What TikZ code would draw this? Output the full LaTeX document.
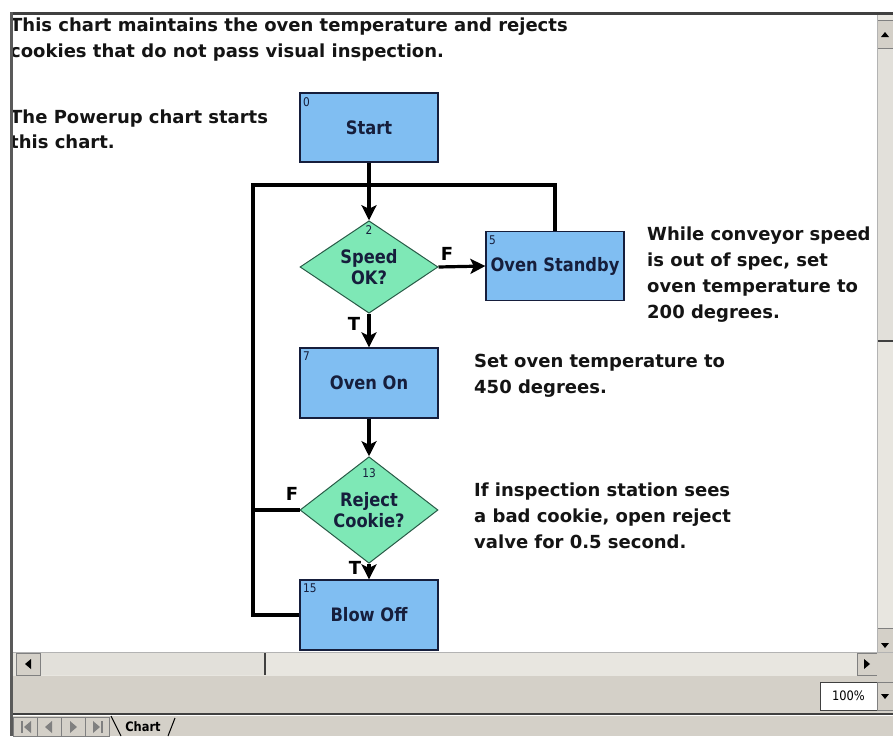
\documentclass[tikz,border=0pt]{standalone}
\usepackage{fontspec}
\usetikzlibrary{arrows.meta,shapes.geometric}
\newfontfamily\dvs{DejaVu Sans}
\newfontfamily\dvsn[FakeStretch=0.88]{DejaVu Sans}
\definecolor{boxblue}{RGB}{128,190,242}
\definecolor{dgreen}{RGB}{126,232,182}
\definecolor{dborder}{RGB}{40,90,70}
\definecolor{navy}{RGB}{22,30,60}
\definecolor{notetext}{RGB}{20,20,20}
\definecolor{uigray}{RGB}{212,208,200}
\definecolor{track}{RGB}{232,230,224}
\definecolor{thumb}{RGB}{226,224,218}
\definecolor{dkgray}{RGB}{64,64,64}
\definecolor{frame}{RGB}{90,90,90}
\definecolor{midgray}{RGB}{128,128,128}
\tikzset{
  stepbox/.style={draw=navy,line width=1.3pt,fill=boxblue,minimum width=138pt,minimum height=69pt,inner sep=0pt,font=\dvsn\bfseries\fontsize{18.5}{21}\selectfont,text=navy},
  decision/.style={diamond,draw=dborder,line width=1pt,fill=dgreen,minimum width=138pt,minimum height=90pt,inner sep=0pt,align=center,font=\dvsn\bfseries\fontsize{18.5}{21}\selectfont,text=navy},
  num/.style={inner sep=0pt,font=\dvsn\fontsize{12}{13}\selectfont,text=navy},
  flow/.style={line width=3.2pt,draw=black},
  arr/.style={flow,-{Stealth[length=15pt,width=15pt,inset=3.5pt]}},
  tf/.style={inner sep=0pt,font=\dvs\bfseries\fontsize{18}{20}\selectfont},
  note/.style={anchor=base west,inner sep=0pt,font=\dvs\bfseries\fontsize{18}{20}\selectfont,text=notetext},
  btn/.style={fill=uigray,draw=midgray,line width=0.8pt},
  tri/.style={fill=black,draw=none}
}
\begin{document}
\begin{tikzpicture}[x=1pt,y=-1pt]
\useasboundingbox (0,0) rectangle (893,736);
\fill[white] (0,0) rectangle (893,736);

% ---------- texts ----------
\node[note] (t1) at (10,31) {This chart maintains the oven temperature and rejects};
\node[note] (t2) at (10,57) {cookies that do not pass visual inspection.};
\node[note] (p1) at (10,123) {The Powerup chart starts};
\node[note] (p2) at (10,148) {this chart.};
\node[note] (w1) at (647,240) {While conveyor speed};
\node[note] (w2) at (647,266) {is out of spec, set};
\node[note] (w3) at (647,292) {oven temperature to};
\node[note] (w4) at (647,318) {200 degrees.};
\node[note] (s1) at (474,367) {Set oven temperature to};
\node[note] (s2) at (474,393) {450 degrees.};
\node[note] (i1) at (474,496) {If inspection station sees};
\node[note] (i2) at (474,522) {a bad cookie, open reject};
\node[note] (i3) at (474,548) {valve for 0.5 second.};

% ---------- flowchart ----------
\node[stepbox] (start) at (369,127.5) {Start};
\node[decision] (d1) at (369,267) {Speed\\OK?};
\node[stepbox] (standby) at (555,266) {Oven Standby};
\node[stepbox,minimum height=70pt] (oven) at (369,383) {Oven On};
\node[decision,minimum height=88pt] (d2) at (369,510) {Reject\\Cookie?};
\node[stepbox,minimum height=70pt] (blow) at (369,615) {Blow Off};

\node[num,anchor=north west] (n0) at (303,97) {0};
\node[num,anchor=north] (n2) at (369,225) {2};
\node[num,anchor=north west] (n5) at (489,236) {5};
\node[num,anchor=north west] (n7) at (303,352) {7};
\node[num,anchor=north] (n13) at (369,468) {13};
\node[num,anchor=north west] (n15) at (303,584) {15};

\coordinate (tl) at (253,185);
\draw[flow] (blow.west) -| (tl) -- (tl -| standby.north) -- (standby.north);
\draw[flow] (d2.west) -- (d2.west -| tl);
\draw[arr] (start.south) -- (d1.north);
\draw[arr] (d1.east) -- (standby.west);
\draw[arr] (d1.south) -- (oven.north);
\draw[arr] (oven.south) -- (d2.north);
\draw[arr] (d2.south) -- (blow.north);

\node[tf] (f1) at (447,254) {F};
\node[tf] (t1l) at (354,324) {T};
\node[tf] (f2) at (292,494) {F};
\node[tf] (t2l) at (355,568) {T};

% ---------- window chrome ----------
% vertical scrollbar
\fill[track] (877,15) rectangle (893,652);
\fill[thumb] (877,48) rectangle (893,340);
\draw[dkgray,line width=1.5pt] (877,341) -- (893,341);
\draw[btn] (877,20) rectangle (894,48);
\fill[tri] (881,37) -- (889,37) -- (885,32) -- cycle;
\draw[btn] (877,628) rectangle (894,652);
\fill[tri] (881,643) -- (889,643) -- (885,648) -- cycle;
\draw[midgray!60,line width=0.8pt] (877,15) -- (877,652);
% horizontal scrollbar
\fill[track] (13,652) rectangle (877,676);
\fill[thumb] (40,653) rectangle (265,675);
\draw[dkgray,line width=1.5pt] (265,653) -- (265,675);
\draw[btn] (16,653) rectangle (40,675);
\fill[tri] (31,659) -- (31,669) -- (25,664) -- cycle;
\draw[btn] (857,653) rectangle (877,675);
\fill[tri] (864,659) -- (864,669) -- (870,664) -- cycle;
\fill[uigray] (877,652) rectangle (893,676);
\draw[midgray!60,line width=0.8pt] (13,652) -- (893,652);
% status area
\fill[uigray] (13,676) rectangle (893,713);
\node[draw=dkgray,fill=white,line width=1pt,minimum width=57pt,minimum height=28pt,inner sep=0pt,font=\dvsn\fontsize{13}{14}\selectfont] (zoombox) at (848.5,696) {100\%};
\draw[btn] (877,682) rectangle (894,710);
\fill[tri] (881,694) -- (889,694) -- (885,699) -- cycle;
\draw[dkgray,line width=1.5pt] (13,714) -- (893,714);
% tab bar
\fill[uigray] (13,715.5) rectangle (893,736);
\foreach \xx in {13,37,61,85}{\draw[btn] (\xx,717) rectangle ++(24,19);}
\fill[midgray] (21,721) rectangle (23,733);
\fill[midgray] (31,721) -- (31,733) -- (24,727) -- cycle;
\fill[midgray] (52,721) -- (52,733) -- (45,727) -- cycle;
\fill[midgray] (70,721) -- (70,733) -- (77,727) -- cycle;
\fill[midgray] (93,721) -- (93,733) -- (100,727) -- cycle;
\fill[midgray] (101,721) rectangle (103,733);
\draw[black,line width=1pt] (111,716) -- (121,736);
\draw[black,line width=1pt] (168,736) -- (175,718);
\node[inner sep=0pt,font=\dvsn\bfseries\fontsize{13}{14}\selectfont] (tab) at (143,727) {Chart};
% window frame
\draw[dkgray,line width=3pt] (10,13.5) -- (893,13.5);
\draw[frame,line width=3pt] (11.5,12) -- (11.5,736);
\end{tikzpicture}
\end{document}
